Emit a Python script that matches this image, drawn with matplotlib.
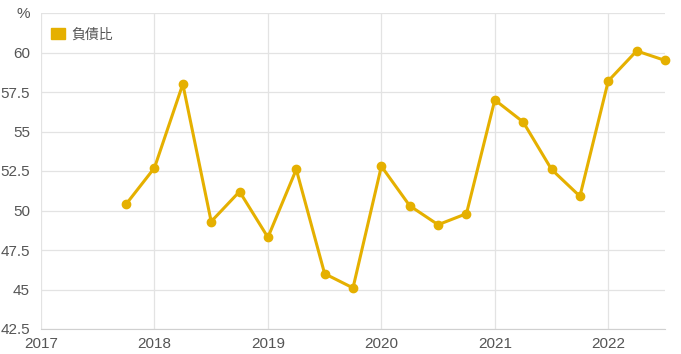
import matplotlib
matplotlib.use("Agg")
import matplotlib.pyplot as plt
from matplotlib.patches import Patch

plt.rcParams['font.family'] = ['Liberation Sans', 'Noto Sans CJK TC', 'DejaVu Sans']

# quarterly debt ratio (負債比), 2017Q4 .. 2022Q3
quarters = [2017.75, 2018.0, 2018.25, 2018.5, 2018.75, 2019.0, 2019.25, 2019.5, 2019.75,
            2020.0, 2020.25, 2020.5, 2020.75, 2021.0, 2021.25, 2021.5, 2021.75,
            2022.0, 2022.25, 2022.5]
debt_ratio = [50.4, 52.7, 58.0, 49.3, 51.2, 48.3, 52.6, 46.0, 45.1,
              52.8, 50.3, 49.1, 49.8, 57.0, 55.6, 52.6, 50.9,
              58.2, 60.1, 59.5]
years = [2017, 2018, 2019, 2020, 2021, 2022]
y_ticks = [42.5, 45, 47.5, 50, 52.5, 55, 57.5, 60, 62.5]
y_labels = ['42.5', '45', '47.5', '50', '52.5', '55', '57.5', '60', '%']

color = '#e5b000'
grid_c = '#e3e3e3'
text_c = '#555555'

fig = plt.figure(figsize=(6.81, 3.54), dpi=100)
ax = fig.add_axes([41 / 681, 25 / 354, 624 / 681, 316 / 354])

ax.plot(quarters, debt_ratio, color=color, lw=2.2, marker='o', ms=6, zorder=3, clip_on=False)

ax.set_xlim(2017, 2022.5)
ax.set_ylim(42.5, 62.5)
ax.set_xticks(years)
ax.set_xticklabels([str(y) for y in years])
ax.set_yticks(y_ticks)
ax.set_yticklabels(y_labels)

ax.grid(True, color=grid_c, lw=0.9)
ax.set_axisbelow(True)
for s in ['top', 'right', 'left']:
    ax.spines[s].set_visible(False)
ax.spines['bottom'].set_color('#d0d0d0')
ax.tick_params(length=0, colors=text_c, labelsize=11)
ax.tick_params(axis='y', pad=8)
ax.tick_params(axis='x', pad=6)

handle = Patch(facecolor=color, edgecolor=color)
leg = ax.legend([handle], ['負債比'], loc='upper left', bbox_to_anchor=(0.0, 0.985),
                frameon=False, fontsize=10, labelcolor=text_c,
                handlelength=1.0, handleheight=0.9, handletextpad=0.5, borderaxespad=0.3,
                prop={'family': ['Noto Sans CJK TC'], 'size': 10})

fig.savefig('out.png', dpi=100)
